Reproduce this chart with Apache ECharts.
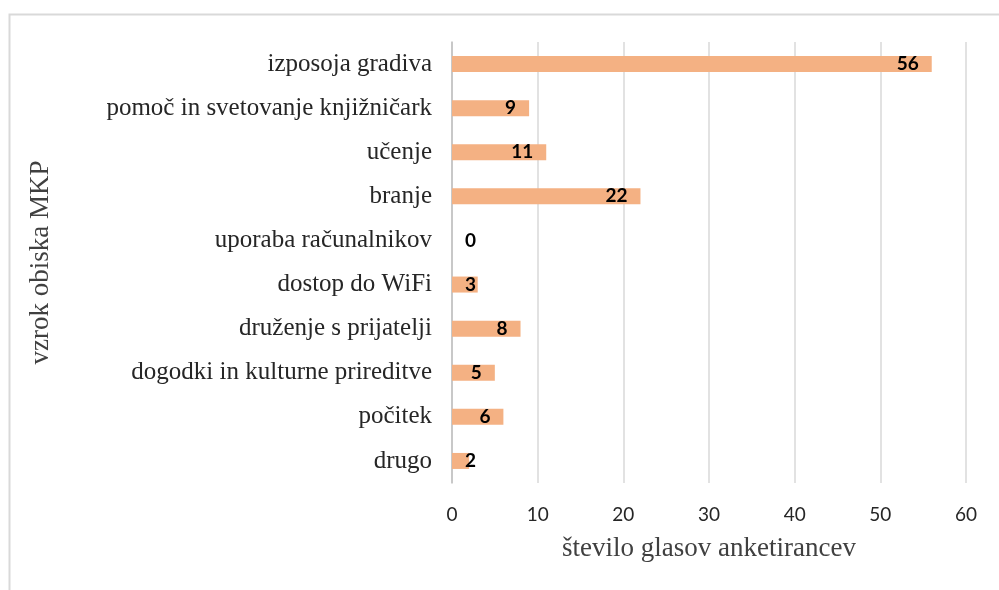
<!DOCTYPE html>
<html>
<head>
<meta charset="utf-8">
<script src="https://cdn.jsdelivr.net/npm/echarts@6/dist/echarts.min.js"></script>
<style>
  html, body { margin: 0; padding: 0; background: #fff; }
  #main { width: 999px; height: 590px; }
</style>
</head>
<body>
<div id="main"></div>
<script>
// categories listed bottom to top (ECharts category y axis starts at the bottom)
const categories = [
  'drugo',
  'počitek',
  'dogodki in kulturne prireditve',
  'druženje s prijatelji',
  'dostop do WiFi',
  'uporaba računalnikov',
  'branje',
  'učenje',
  'pomoč in svetovanje knjižničark',
  'izposoja gradiva'
]
const votes = [2, 6, 5, 8, 3, 0, 22, 11, 9, 56]
const xTicks = [0, 10, 20, 30, 40, 50, 60]

const chart = echarts.init(document.getElementById('main'))

const option = {
  animation: false,
  graphic: [
    {
      type: 'rect',
      left: 7,
      top: 12,
      shape: { width: 1100, height: 700 },
      style: { fill: 'none', stroke: '#d9d9d9', lineWidth: 2 },
      silent: true
    }
  ],
  grid: { left: 452, right: 33, top: 42, bottom: 107 },
  xAxis: {
    type: 'value',
    min: xTicks[0],
    max: xTicks[xTicks.length - 1],
    interval: 10,
    name: 'število glasov anketirancev',
    nameLocation: 'middle',
    nameGap: 52,
    nameTextStyle: { fontFamily: 'Liberation Serif', fontSize: 27, color: '#404040' },
    axisLine: { show: false },
    axisTick: { show: false },
    axisLabel: { fontFamily: 'Lato', fontSize: 19, color: '#262626', margin: 22 },
    splitLine: { lineStyle: { color: '#d9d9d9', width: 1.5 } }
  },
  yAxis: {
    type: 'category',
    data: categories,
    name: 'vzrok obiska MKP',
    nameLocation: 'middle',
    nameGap: 398,
    nameTextStyle: { fontFamily: 'Liberation Serif', fontSize: 27, color: '#404040' },
    axisLine: { lineStyle: { color: '#bfbfbf', width: 1.5 } },
    axisTick: { show: false },
    axisLabel: { fontFamily: 'Liberation Serif', fontSize: 25, color: '#262626', margin: 20 }
  },
  series: [
    {
      type: 'bar',
      data: votes.map(function (v) {
        return {
          value: v,
          label: { position: v < 4 ? 'insideLeft' : 'insideRight' }
        }
      }),
      barWidth: 16,
      itemStyle: { color: '#F4B183' },
      label: {
        show: true,
        distance: 13,
        fontFamily: 'Lato',
        fontWeight: 'bold',
        fontSize: 19,
        color: '#000'
      }
    }
  ]
}

chart.setOption(option)
</script>
</body>
</html>
